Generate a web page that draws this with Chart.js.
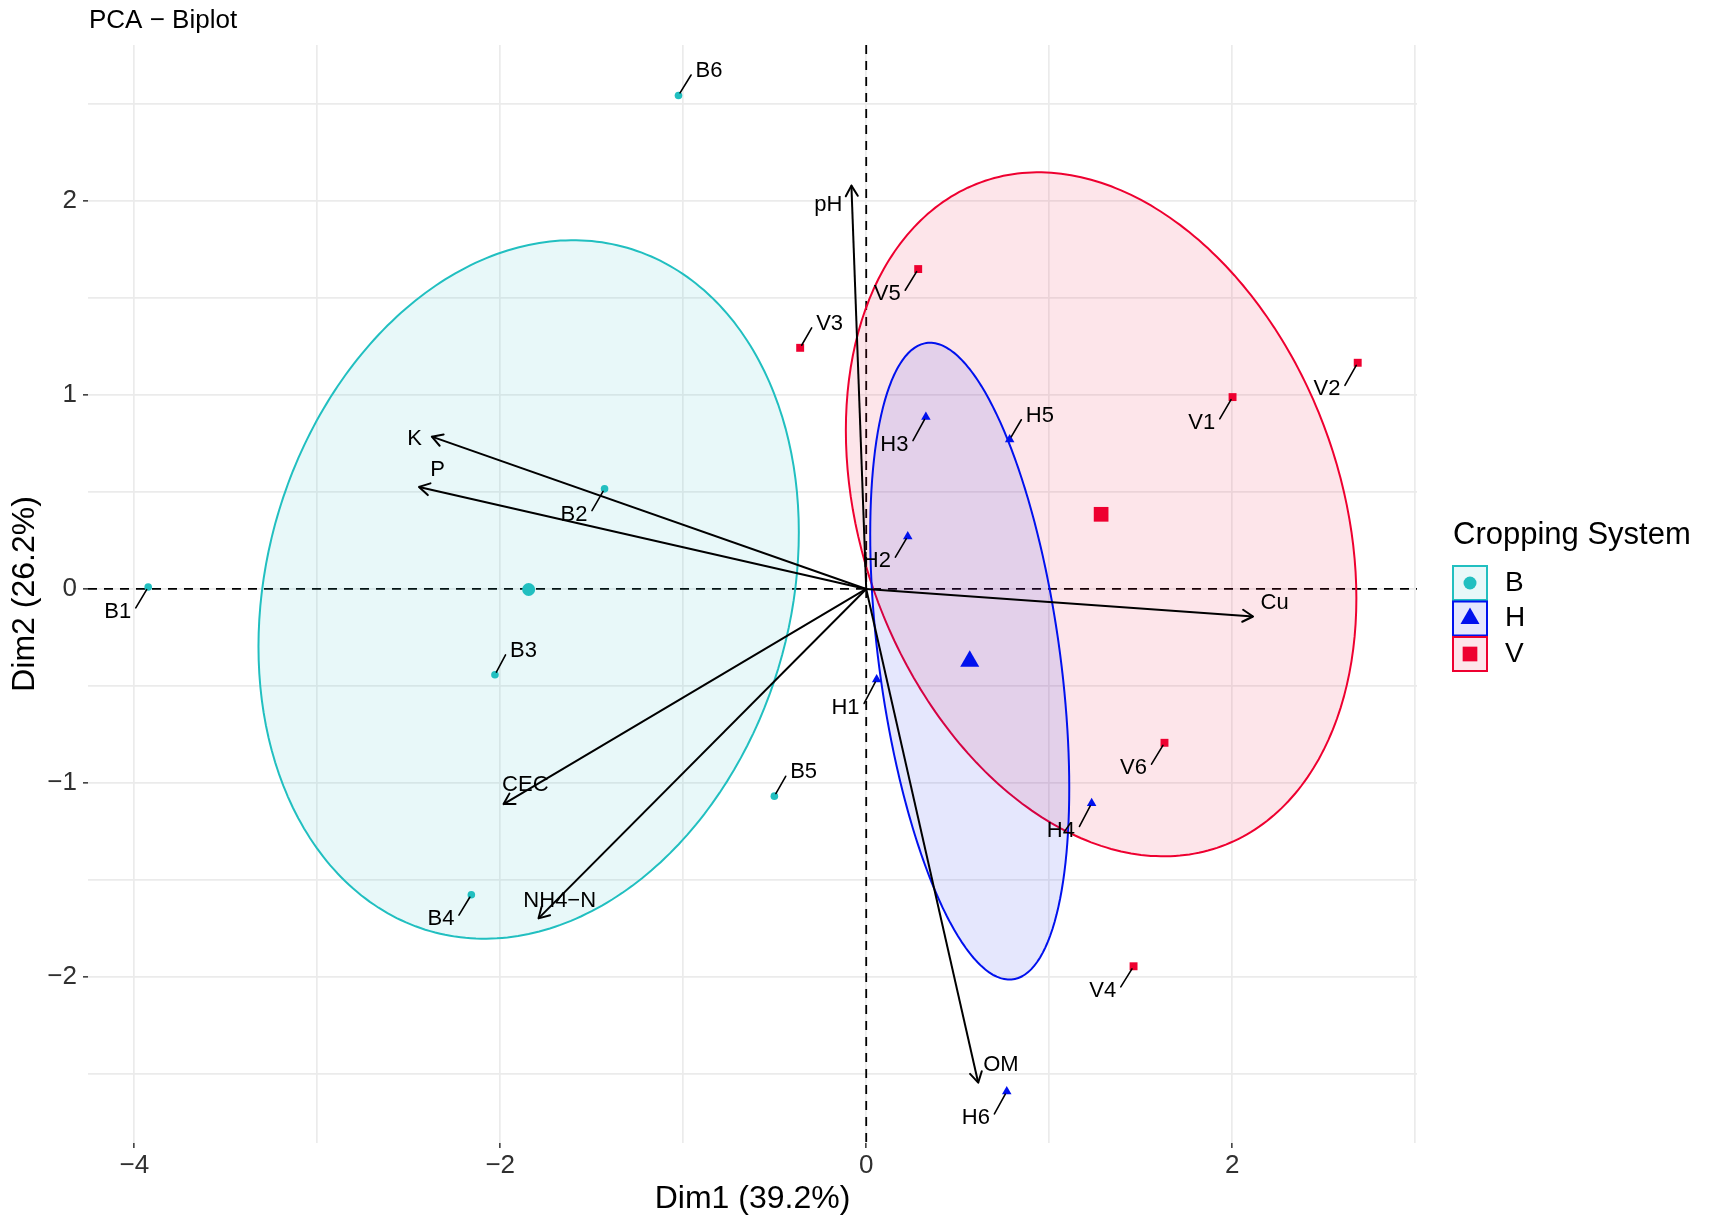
<!DOCTYPE html>
<html>
<head>
<meta charset="utf-8">
<title>PCA - Biplot</title>
<script src="https://cdn.jsdelivr.net/npm/chart.js@4.4.1/dist/chart.umd.min.js"></script>
<style>
  html, body { margin: 0; padding: 0; background: #fff; }
  #wrap { width: 1713px; height: 1226px; }
</style>
</head>
<body>
<div id="wrap"><canvas id="biplot" width="1713" height="1226"></canvas></div>
<script>
// individuals
const indNames = ['B1', 'B2', 'B3', 'B4', 'B5', 'B6', 'H1', 'H2', 'H3', 'H4', 'H5', 'H6', 'V1', 'V2', 'V3', 'V4', 'V5', 'V6'];
const indGroup = ['B', 'B', 'B', 'B', 'B', 'B', 'H', 'H', 'H', 'H', 'H', 'H', 'V', 'V', 'V', 'V', 'V', 'V'];
const indX = [-3.924, -1.430, -2.029, -2.158, -0.502, -1.026, 0.057, 0.227, 0.326, 1.232, 0.784, 0.768, 2.002, 2.686, -0.361, 1.461, 0.284, 1.630];
const indY = [0.010, 0.516, -0.442, -1.576, -1.068, 2.544, -0.467, 0.271, 0.887, -1.105, 0.771, -2.591, 0.989, 1.166, 1.243, -1.945, 1.649, -0.793];
const indLabelX = [-4.090, -1.597, -1.873, -2.324, -0.342, -0.859, -0.113, 0.058, 0.154, 1.064, 0.949, 0.599, 1.834, 2.518, -0.200, 1.293, 0.115, 1.461];
const indLabelY = [-0.118, 0.383, -0.319, -1.702, -0.945, 2.670, -0.611, 0.143, 0.744, -1.245, 0.893, -2.727, 0.856, 1.029, 1.366, -2.072, 1.519, -0.924];

// variables (arrows)
const varNames = ['K', 'P', 'pH', 'Cu', 'CEC', 'NH4\u2212N', 'OM'];
const varX = [-2.374, -2.444, -0.081, 2.114, -1.982, -1.791, 0.612];
const varY = [0.785, 0.526, 2.079, -0.142, -1.109, -1.698, -2.545];
const varLabelX = [-2.468, -2.343, -0.207, 2.232, -1.863, -1.675, 0.736];
const varLabelY = [0.771, 0.612, 1.977, -0.071, -1.012, -1.609, -2.453];

// groups
const groupNames = ['B', 'H', 'V'];
const legendTitle = 'Cropping System';

// axes
const xGrid = [-4, -3, -2, -1, 0, 1, 2, 3];
const xLabeled = [-4, -2, 0, 2];
const yGrid = [-2.5, -2, -1.5, -1, -0.5, 0, 0.5, 1, 1.5, 2, 2.5];
const yLabeled = [-2, -1, 0, 1, 2];
const xRange = [-4.253, 3.01];
const yRange = [-2.856, 2.804];

// ellipse size (in standard deviations)
const ellipseScale = 1.239;

const fam = "'Liberation Sans', Arial, Helvetica, sans-serif";
const groupColors = ['#21BFC0', '#0011EE', '#EE0030'];
const groupFills = ['rgba(33,191,192,0.1)', 'rgba(0,17,238,0.1)', 'rgba(238,0,48,0.1)'];
const groupShapes = ['circle', 'triangle', 'rect'];
const pointSizes = [3.8, 5.5, 5.6];
const meanSizes = [6.5, 11, 10.4];

Chart.defaults.font.family = fam;

function fmt(v) {
    return v < 0 ? '\u2212' + Math.abs(v) : String(v);
}

function groupIdx(g) {
    return indX.map((_, i) => i).filter(i => indGroup[i] === g);
}

function mean(arr) {
    return arr.reduce((a, b) => a + b, 0) / arr.length;
}

// normal ellipse around group mean from the sample covariance
function ellipseFor(g) {
    const idx = groupIdx(g);
    const xs = idx.map(i => indX[i]);
    const ys = idx.map(i => indY[i]);
    const mx = mean(xs), my = mean(ys);
    let sxx = 0, syy = 0, sxy = 0;
    idx.forEach((_, k) => {
        const dx = xs[k] - mx, dy = ys[k] - my;
        sxx += dx * dx; syy += dy * dy; sxy += dx * dy;
    });
    const n = idx.length - 1;
    sxx /= n; syy /= n; sxy /= n;
    const a = Math.sqrt(sxx);
    const b = sxy / a;
    const c = Math.sqrt(syy - b * b);
    const pts = [];
    for (let k = 0; k <= 160; k++) {
        const t = 2 * Math.PI * k / 160;
        const u = Math.cos(t), v = Math.sin(t);
        pts.push({ x: mx + ellipseScale * a * u, y: my + ellipseScale * (b * u + c * v) });
    }
    return pts;
}

const datasets = [];

groupNames.forEach((g, gi) => {
    const idx = groupIdx(g);
    datasets.push({
        label: g,
        data: idx.map(i => ({ x: indX[i], y: indY[i] })),
        pointStyle: groupShapes[gi],
        pointRadius: pointSizes[gi],
        backgroundColor: groupColors[gi],
        borderColor: groupColors[gi],
        borderWidth: 0,
        order: 0
    });
    datasets.push({
        label: g + ' mean',
        data: [{ x: mean(idx.map(i => indX[i])), y: mean(idx.map(i => indY[i])) }],
        pointStyle: groupShapes[gi],
        pointRadius: meanSizes[gi],
        backgroundColor: groupColors[gi],
        borderColor: groupColors[gi],
        borderWidth: 0,
        order: 0
    });
    datasets.push({
        label: g + ' ellipse',
        data: ellipseFor(g),
        showLine: true,
        fill: 'shape',
        backgroundColor: groupFills[gi],
        borderColor: groupColors[gi],
        borderWidth: 2,
        pointRadius: 0,
        // small tension avoids the fast-path column merge at vertical tangents
        tension: 0.05,
        order: 2
    });
});

varNames.forEach((name, i) => {
    datasets.push({
        label: name,
        data: [{ x: 0, y: 0 }, { x: varX[i], y: varY[i] }],
        showLine: true,
        borderColor: '#000',
        borderWidth: 2,
        pointRadius: 0,
        order: 1
    });
});

const zeroLines = {
    id: 'zeroLines',
    beforeDatasetsDraw(chart) {
        const { ctx, chartArea, scales: { x, y } } = chart;
        const x0 = x.getPixelForValue(0);
        const y0 = y.getPixelForValue(0);
        ctx.save();
        ctx.strokeStyle = '#000';
        ctx.lineWidth = 1.8;
        ctx.setLineDash([9, 7]);
        ctx.beginPath();
        ctx.moveTo(chartArea.left, y0);
        ctx.lineTo(chartArea.right, y0);
        ctx.moveTo(x0, chartArea.top);
        ctx.lineTo(x0, chartArea.bottom);
        ctx.stroke();
        ctx.restore();
    }
};

const annotations = {
    id: 'annotations',
    afterDatasetsDraw(chart) {
        const { ctx, scales: { x, y } } = chart;
        const ox = x.getPixelForValue(0);
        const oy = y.getPixelForValue(0);
        ctx.save();
        ctx.strokeStyle = '#000';
        ctx.fillStyle = '#000';
        ctx.lineCap = 'round';
        ctx.lineJoin = 'round';

        // arrow heads
        ctx.lineWidth = 2;
        const headLen = 12;
        varX.forEach((vx, i) => {
            const tx = x.getPixelForValue(vx);
            const ty = y.getPixelForValue(varY[i]);
            const ang = Math.atan2(ty - oy, tx - ox);
            ctx.beginPath();
            [-1, 1].forEach(s => {
                const a = ang + Math.PI + s * Math.PI / 6;
                ctx.moveTo(tx + headLen * Math.cos(a), ty + headLen * Math.sin(a));
                ctx.lineTo(tx, ty);
            });
            ctx.stroke();
        });

        ctx.font = '22px ' + fam;
        ctx.textAlign = 'center';
        ctx.textBaseline = 'middle';

        varNames.forEach((name, i) => {
            ctx.fillText(name, x.getPixelForValue(varLabelX[i]), y.getPixelForValue(varLabelY[i]));
        });

        // point labels with leader segments (end beside the text, like ggrepel)
        ctx.lineWidth = 1.6;
        indNames.forEach((name, i) => {
            const px = x.getPixelForValue(indX[i]);
            const py = y.getPixelForValue(indY[i]);
            const lx = x.getPixelForValue(indLabelX[i]);
            const ly = y.getPixelForValue(indLabelY[i]);
            const hw = ctx.measureText(name).width / 2;
            const left = lx - hw, right = lx + hw;
            let ex = px;
            if (px > right) ex = right + 4.5;
            else if (px < left) ex = left - 4.5;
            let ey = Math.min(Math.max(py, ly - 4), ly + 4);
            if (px >= left && px <= right) ey = py < ly ? ly - 12 : ly + 12;
            const dx = ex - px, dy = ey - py;
            const len = Math.hypot(dx, dy);
            if (len > 6) {
                const g = 3 / len;
                ctx.beginPath();
                ctx.moveTo(px + g * dx, py + g * dy);
                ctx.lineTo(ex, ey);
                ctx.stroke();
            }
            ctx.fillText(name, lx, ly);
        });
        ctx.restore();
    }
};

const titleAndLegend = {
    id: 'titleAndLegend',
    afterDraw(chart) {
        const { ctx, chartArea } = chart;
        ctx.save();
        ctx.fillStyle = '#000';
        ctx.textAlign = 'left';
        ctx.textBaseline = 'middle';
        ctx.font = '26px ' + fam;
        ctx.fillText('PCA \u2212 Biplot', chartArea.left + 1, 21);

        const lx = chartArea.right + 36;
        const midY = (chartArea.top + chartArea.bottom) / 2;
        ctx.font = '31px ' + fam;
        ctx.fillText(legendTitle, lx, midY - 59);

        const box = 34;
        groupNames.forEach((g, gi) => {
            const ky = midY - 28 + gi * 35.5;
            ctx.fillStyle = groupFills[gi];
            ctx.fillRect(lx, ky, box, box);
            ctx.strokeStyle = groupColors[gi];
            ctx.lineWidth = 2;
            ctx.strokeRect(lx, ky, box, box);
            ctx.fillStyle = groupColors[gi];
            ctx.strokeStyle = groupColors[gi];
            Chart.helpers.drawPoint(ctx, {
                pointStyle: groupShapes[gi],
                radius: meanSizes[gi],
                borderWidth: 0,
                rotation: 0
            }, lx + box / 2, ky + box / 2);
            ctx.fillStyle = '#000';
            ctx.font = '28px ' + fam;
            ctx.fillText(g, lx + 52, ky + box / 2);
        });
        ctx.restore();
    }
};

new Chart(document.getElementById('biplot'), {
    type: 'scatter',
    data: { datasets },
    options: {
        responsive: false,
        animation: false,
        devicePixelRatio: 1,
        layout: { padding: { top: 45, right: 296, bottom: 0, left: 0 } },
        plugins: {
            legend: { display: false },
            tooltip: { enabled: false },
            title: { display: false }
        },
        scales: {
            x: {
                type: 'linear',
                min: xRange[0],
                max: xRange[1],
                afterBuildTicks: (s) => { s.ticks = xGrid.map(v => ({ value: v })); },
                afterFit: (s) => { s.height = 83; },
                border: { display: false },
                grid: {
                    color: '#EBEBEB',
                    lineWidth: 1.7,
                    tickLength: 5,
                    tickWidth: 1.5,
                    tickColor: (c) => xLabeled.includes(c.tick.value) ? '#333333' : 'rgba(0,0,0,0)'
                },
                ticks: {
                    autoSkip: false,
                    maxRotation: 0,
                    padding: 2,
                    color: '#303030',
                    font: { size: 26 },
                    callback: (v) => xLabeled.includes(v) ? fmt(v) : ''
                },
                title: {
                    display: true,
                    text: 'Dim1 (39.2%)',
                    color: '#000',
                    font: { size: 32, lineHeight: 1.2 },
                    padding: { top: 0, bottom: 7.8 }
                }
            },
            y: {
                type: 'linear',
                min: yRange[0],
                max: yRange[1],
                afterBuildTicks: (s) => { s.ticks = yGrid.map(v => ({ value: v })); },
                afterFit: (s) => { s.width = 88; },
                border: { display: false },
                grid: {
                    color: '#EBEBEB',
                    lineWidth: 1.7,
                    tickLength: 5,
                    tickWidth: 1.5,
                    tickColor: (c) => yLabeled.includes(c.tick.value) ? '#333333' : 'rgba(0,0,0,0)'
                },
                ticks: {
                    autoSkip: false,
                    padding: 6,
                    color: '#303030',
                    font: { size: 26 },
                    callback: (v) => yLabeled.includes(v) ? fmt(v) : ''
                },
                title: {
                    display: true,
                    text: 'Dim2 (26.2%)',
                    color: '#000',
                    font: { size: 32, lineHeight: 1.2 },
                    padding: { top: 5.8, bottom: 0 }
                }
            }
        }
    },
    plugins: [zeroLines, annotations, titleAndLegend]
});
</script>
</body>
</html>
